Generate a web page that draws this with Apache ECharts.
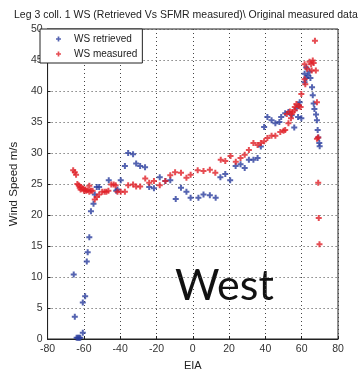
<!DOCTYPE html>
<html>
<head>
<meta charset="utf-8">
<script src="https://cdn.jsdelivr.net/npm/echarts@6/dist/echarts.min.js"></script>
<style>
  html, body { margin: 0; padding: 0; background: #fff; }
  #chart { width: 364px; height: 376px; }
</style>
</head>
<body>
<div id="chart"></div>
<script>
// [EIA, wind speed] pairs
const wsRetrieved = [
  [-64, 0.2], [-63.3, 0.2], [-62.6, 0.2], [-62, 0.2], [-60.6, 1.0], [-65, 3.6],
  [-60.6, 5.9], [-59.3, 6.9], [-65.6, 10.4], [-58.4, 12.5], [-57.9, 14], [-57, 16.4],
  [-56.1, 20.6], [-54.7, 21.8], [-54, 23.3], [-52.9, 24.5], [-51.6, 24.5], [-46.3, 25.6],
  [-42.2, 23.9], [-41.5, 24.1], [-39.7, 25.6], [-37.4, 27.9], [-35.6, 30], [-32.9, 29.8],
  [-31.2, 28.3], [-29, 27.9], [-26.3, 27.7], [-24, 24.5], [-21.4, 24.3], [-18.2, 26.1],
  [-15.1, 25.5], [-12.4, 25.6], [-9.4, 22.6], [-6.5, 24.4], [-3.5, 23.75], [-1.2, 22.8],
  [3.1, 22.8], [5.9, 23.3], [9.4, 23.2], [12.6, 22.8], [15.2, 26.1], [17.9, 26.6],
  [20.6, 25.6], [23.6, 27.9], [26.3, 28.2], [28.6, 27.6], [30.9, 28.9], [33.4, 28.9],
  [35.7, 29.2], [37.5, 31.05], [39.3, 34.2], [41.1, 35.8], [43.4, 35.3], [45.5, 34.8],
  [47.7, 35], [48.7, 35.8], [50.9, 36.4], [52.7, 36.6], [54.5, 36.1], [55.9, 34.1],
  [57.1, 37.2], [58.4, 37.7], [59.8, 35.6], [58, 35.8], [58.9, 38.2], [61.6, 41.4],
  [62.5, 42.1], [64.8, 42.1], [63.4, 42.5], [61.6, 42.8], [64.3, 43.1], [62.5, 43.8],
  [65.7, 40.6], [66.1, 39.3], [66.6, 38], [67, 37.1], [67.9, 36.2], [68.4, 35.3],
  [68.8, 33.7], [69.1, 32.5], [69.7, 31.6], [69.9, 31.1]
];
const wsMeasured = [
  [-65.9, 27.2], [-65, 26.9], [-64.3, 26.5], [-63.6, 25], [-62.9, 24.8], [-62.3, 24.4],
  [-61.5, 24.5], [-61.8, 24.1], [-60.6, 24.3], [-60, 23.9], [-59.3, 24.1], [-58.8, 23.9],
  [-57.9, 24], [-57, 24.7], [-57, 23.75], [-56.1, 23.9], [-55.2, 23.9], [-54, 22.5],
  [-52.9, 22.9], [-51.6, 23.3], [-49.9, 23.75], [-48.6, 23.75], [-47.6, 23.75], [-46.5, 23.9],
  [-44.9, 24.9], [-43.6, 24.9], [-42.5, 24.8], [-41.5, 23.75], [-39.7, 23.75], [-37.4, 23.75],
  [-35.6, 24.8], [-32.9, 24.9], [-31.2, 24.6], [-29, 24.6], [-26.2, 25.9], [-24, 25.2],
  [-21.4, 25.5], [-18.2, 24.8], [-15.1, 25.5], [-12.4, 26.4], [-9.75, 26.9], [-6.5, 26.8],
  [-3.5, 26], [-1.2, 26.5], [2.7, 27.2], [5.9, 27.1], [9.4, 27.3], [12.4, 26.8],
  [15.4, 28.9], [17.9, 28.7], [20.8, 29.5], [23.7, 28.6], [26.3, 29.2], [28.6, 29.7],
  [30.9, 30.5], [33.4, 31.6], [35.7, 31.3], [37.5, 31.6], [39.3, 31.9], [41.1, 32.4],
  [43.4, 32.8], [45.5, 32.8], [48.2, 33.4], [50, 33.6], [50.9, 33.7], [52.7, 34.8],
  [54.1, 35.6], [54.8, 36.6], [56.2, 36.9], [51.8, 36.3], [54.5, 36.3], [53.5, 36.7],
  [56.2, 37.4], [57.1, 37.9], [58.4, 37.6], [59.4, 37.4], [59.8, 39.5], [61.6, 41.9],
  [62, 41.1], [63, 43.6], [65.5, 43.3], [67.8, 43.3], [61.6, 44.3], [64.3, 44.7],
  [66.1, 44.9], [65.2, 44.3], [66.6, 44.5], [67.3, 48.1], [68.4, 38.2], [69.1, 32.5],
  [68.4, 32.3], [69.1, 25.2], [69.4, 19.5], [69.8, 15.3]
];
const seriesNames = ["WS retrieved", "WS measured"];
const titleText = "Leg 3 coll. 1 WS (Retrieved Vs SFMR measured)\\ Original measured data";

const sans = "'Liberation Sans', Arial, sans-serif";
const plus = "path://M2,0H4V2H6V4H4V6H2V4H0V2H2Z";

const chart = echarts.init(document.getElementById("chart"));
chart.setOption({
  animation: false,
  title: {
    text: titleText,
    left: 9,
    top: 5,
    textStyle: { fontFamily: sans, fontSize: 10.5, fontWeight: "normal", color: "#222" }
  },
  grid: {
    left: 39, right: 26, top: 29, bottom: 34,
    show: true, borderColor: "#222", borderWidth: 1, backgroundColor: "#fff"
  },
  legend: {
    orient: "vertical",
    left: 40, top: 29,
    padding: [5, 5, 4, 16],
    itemGap: 5,
    itemWidth: 5, itemHeight: 5,
    backgroundColor: "#fff",
    borderColor: "#222", borderWidth: 1,
    textStyle: { fontFamily: sans, fontSize: 10, color: "#222", padding: [0, 0, 0, 8] },
    data: [
      { name: seriesNames[0], icon: plus },
      { name: seriesNames[1], icon: plus }
    ]
  },
  xAxis: {
    type: "value", min: -80, max: 80, interval: 20,
    name: "EIA", nameLocation: "middle", nameGap: 21,
    nameTextStyle: { fontFamily: sans, fontSize: 11, color: "#222" },
    axisLine: { onZero: false, lineStyle: { color: "#222" } },
    axisTick: { inside: true, length: 3, lineStyle: { color: "#222" } },
    axisLabel: { fontFamily: sans, fontSize: 10.5, color: "#333", margin: 5 },
    splitLine: { lineStyle: { type: [1, 3], color: "#444" } }
  },
  yAxis: {
    type: "value", min: 0, max: 50, interval: 5,
    name: "Wind Speed m/s", nameLocation: "middle", nameGap: 22,
    nameTextStyle: { fontFamily: sans, fontSize: 11.5, color: "#222" },
    axisLine: { onZero: false, lineStyle: { color: "#222" } },
    axisTick: { inside: true, length: 3, lineStyle: { color: "#222" } },
    axisLabel: { fontFamily: sans, fontSize: 10.5, color: "#333", margin: 5 },
    splitLine: { lineStyle: { type: [1, 3], color: "#444" } }
  },
  graphic: [{
    type: "text",
    left: 175, top: 265,
    style: { text: "West", font: "43px Lato, 'Open Sans', sans-serif", fill: "#111" }
  }],
  series: [
    {
      name: seriesNames[0], type: "scatter", data: wsRetrieved,
      symbol: plus, symbolSize: 6,
      itemStyle: { color: "#2b3d9e" }
    },
    {
      name: seriesNames[1], type: "scatter", data: wsMeasured,
      symbol: plus, symbolSize: 6,
      itemStyle: { color: "#e02028" }
    }
  ]
});
</script>
</body>
</html>
